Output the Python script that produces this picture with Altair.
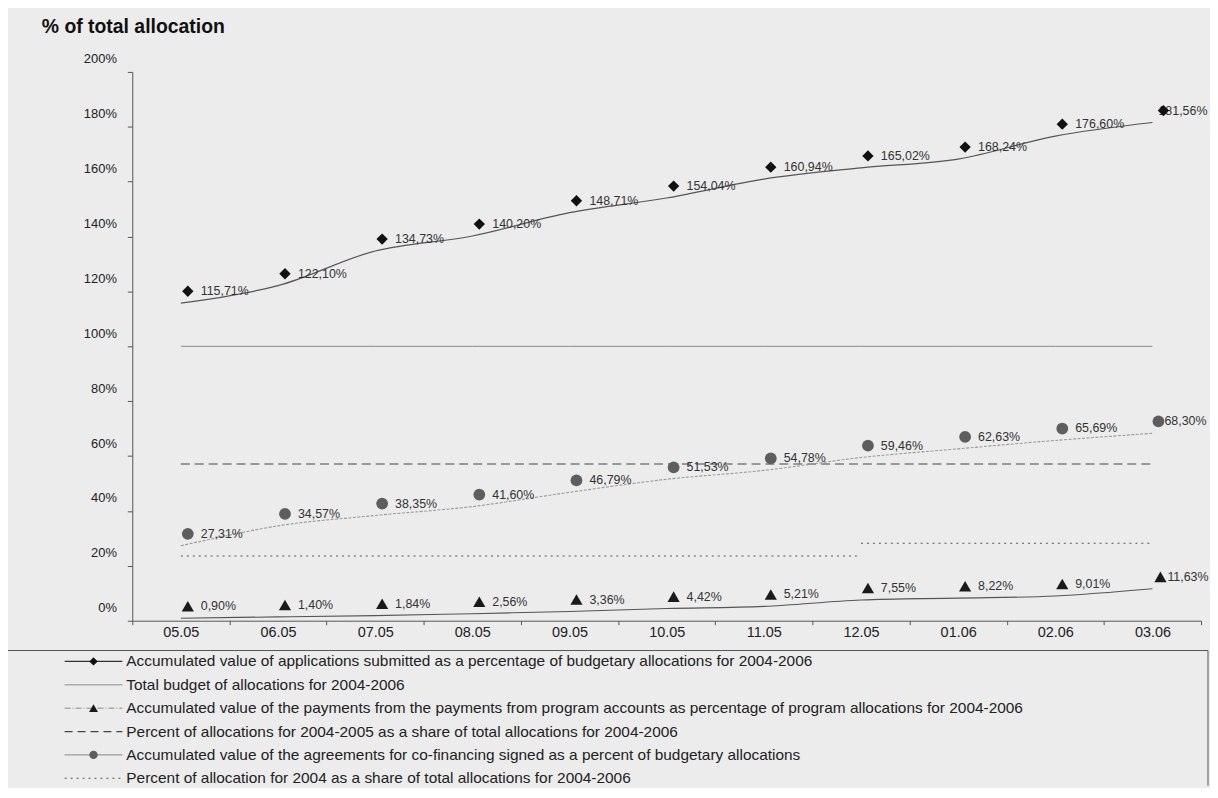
import altair as alt
import pandas as pd

# ---------------- data ----------------
CATEGORIES = ["05.05", "06.05", "07.05", "08.05", "09.05", "10.05",
              "11.05", "12.05", "01.06", "02.06", "03.06"]
APPLICATIONS = [115.71, 122.10, 134.73, 140.20, 148.71, 154.04,
                160.94, 165.02, 168.24, 176.60, 181.56]
AGREEMENTS = [27.31, 34.57, 38.35, 41.60, 46.79, 51.53,
              54.78, 59.46, 62.63, 65.69, 68.30]
PAYMENTS = [0.90, 1.40, 1.84, 2.56, 3.36, 4.42,
            5.21, 7.55, 8.22, 9.01, 11.63]
TOTAL_BUDGET = 100.0
SHARE_2004_2005 = 57.1
SHARE_2004_SEGMENTS = [("05.05", "12.05", 23.6), ("12.05", "03.06", 28.2)]

LEGEND_LABELS = [
    "Accumulated value of applications submitted as a percentage of budgetary allocations for 2004-2006",
    "Total budget of allocations for 2004-2006",
    "Accumulated value of the payments from the payments from program accounts as percentage of program allocations for 2004-2006",
    "Percent of allocations  for 2004-2005 as a share of total allocations for 2004-2006",
    "Accumulated value of the agreements for co-financing signed as a percent of budgetary allocations",
    "Percent of allocation for 2004 as a share of total allocations for 2004-2006",
]
TITLE = "% of total allocation"
Y_TICKS = [0, 20, 40, 60, 80, 100, 120, 140, 160, 180, 200]

FONT = "Liberation Sans"
LAST = CATEGORIES[-1]


def fmt(v):
    return f"{v:.2f}".replace(".", ",") + "%"


def series_df(values):
    return pd.DataFrame({"cat": CATEGORIES, "value": values,
                         "label": [fmt(v) for v in values]})


df_app = series_df(APPLICATIONS)
df_agr = series_df(AGREEMENTS)
df_pay = series_df(PAYMENTS)
df_total = pd.DataFrame({"cat": CATEGORIES, "value": [TOTAL_BUDGET] * len(CATEGORIES)})
df_share45 = pd.DataFrame({"cat": CATEGORIES, "value": [SHARE_2004_2005] * len(CATEGORIES)})
rows = []
for i, (a, b, v) in enumerate(SHARE_2004_SEGMENTS):
    ia, ib = CATEGORIES.index(a), CATEGORIES.index(b)
    for c in CATEGORIES[ia:ib + 1]:
        rows.append({"cat": c, "value": v, "seg": i})
df_share4 = pd.DataFrame(rows)

# ---------------- encodings ----------------
AX_COLOR = "#555555"
X = alt.X("cat:N", sort=CATEGORIES,
          scale=alt.Scale(type="band", paddingInner=0, paddingOuter=0),
          axis=alt.Axis(title=None, labelAngle=0, tickBand="extent", tickSize=4,
                        labelPadding=1, labelFont=FONT, labelFontSize=14.5,
                        labelColor="#222222", domainColor=AX_COLOR, tickColor=AX_COLOR,
                        grid=False))
Y = alt.Y("value:Q", scale=alt.Scale(domain=[0, 200], nice=False),
          axis=alt.Axis(title=None, values=Y_TICKS, labelExpr="datum.value + '%'",
                        tickSize=5, labelPadding=11, labelOffset=-13, labelFont=FONT,
                        labelFontSize=13, labelColor="#222222", domainColor=AX_COLOR,
                        tickColor=AX_COLOR, grid=False))

MY = -12  # marker displacement seen in the original


def series_layers(df, line_kw, shape, size, mcolor, mx_last, dx_last):
    mx = 7
    line = alt.Chart(df).mark_line(interpolate="catmull-rom", **line_kw).encode(x=X, y=Y)
    txt = alt.Chart(df).transform_filter(alt.datum.cat != LAST).mark_text(
        align="left", baseline="middle", dx=mx + 13, dy=MY, font=FONT,
        fontSize=12.5, color="#333333").encode(x=X, y=Y, text="label:N")
    txt_last = alt.Chart(df).transform_filter(alt.datum.cat == LAST).mark_text(
        align="left", baseline="middle", dx=dx_last, dy=MY, font=FONT,
        fontSize=12.5, color="#333333").encode(x=X, y=Y, text="label:N")
    pts = alt.Chart(df).transform_filter(alt.datum.cat != LAST).mark_point(
        shape=shape, filled=True, size=size, color=mcolor,
        opacity=1, xOffset=mx, yOffset=MY).encode(x=X, y=Y)
    pts_last = alt.Chart(df).transform_filter(alt.datum.cat == LAST).mark_point(
        shape=shape, filled=True, size=size, color=mcolor,
        opacity=1, xOffset=mx_last, yOffset=MY).encode(x=X, y=Y)
    return [line, txt, txt_last, pts, pts_last]


layers = []
# reference lines
layers.append(alt.Chart(df_total).mark_line(color="#8a8a8a", strokeWidth=1).encode(x=X, y=Y))
layers.append(alt.Chart(df_share45).mark_line(color="#444444", strokeWidth=1.2,
                                               strokeDash=[9, 5]).encode(x=X, y=Y))
layers.append(alt.Chart(df_share4).mark_line(color="#555555", strokeWidth=1.1,
                                              strokeDash=[2, 4]).encode(
    x=X, y=Y, detail="seg:N"))
# data series
layers += series_layers(df_app, dict(color="#555555", strokeWidth=1.2), "diamond", 130,
                        "#111111", 11, 6)
layers += series_layers(df_agr, dict(color="#9a9a9a", strokeWidth=1.1, strokeDash=[3, 1.5]),
                        "circle", 140, "#5e5e5e", 6, 12)
layers += series_layers(df_pay, dict(color="#555555", strokeWidth=1.1), "triangle-up", 150,
                        "#1a1a1a", 8, 15)

# title
layers.append(alt.Chart(pd.DataFrame({"t": [TITLE]})).mark_text(
    align="left", baseline="alphabetic", font=FONT, fontSize=19.5, fontWeight="bold",
    color="#111111").encode(x=alt.value(-91), y=alt.value(-39), text="t:N"))

# legend box (bottom cut off like the original)
BOX_L, BOX_R, BOX_T, BOX_B = -126, 1082, 582, 718
one = pd.DataFrame({"k": [0]})
layers.append(alt.Chart(one).mark_rule(color=AX_COLOR, strokeWidth=1).encode(
    x=alt.value(BOX_L), x2=alt.value(BOX_R), y=alt.value(BOX_T)))
layers.append(alt.Chart(one).mark_rule(color=AX_COLOR, strokeWidth=1).encode(
    x=alt.value(BOX_L), y=alt.value(BOX_T), y2=alt.value(BOX_B)))
layers.append(alt.Chart(one).mark_rule(color=AX_COLOR, strokeWidth=1).encode(
    x=alt.value(BOX_R), y=alt.value(BOX_T), y2=alt.value(BOX_B)))

LEG_Y0, LEG_STEP = 593, 23.5
SYM_X1, SYM_X2, SYM_MID, TXT_X = -68, -10, -39, -6
legend_styles = [
    (dict(color="#333333", strokeWidth=1.2), ("diamond", 70, "#111111")),
    (dict(color="#8a8a8a", strokeWidth=1), None),
    (dict(color="#8a8a8a", strokeWidth=1, strokeDash=[6, 2, 1, 2]), ("triangle-up", 80, "#1a1a1a")),
    (dict(color="#444444", strokeWidth=1.2, strokeDash=[8, 5]), None),
    (dict(color="#9a9a9a", strokeWidth=1.1), ("circle", 70, "#5e5e5e")),
    (dict(color="#555555", strokeWidth=1.1, strokeDash=[2, 4]), None),
]
for i, (label, (lkw, mk)) in enumerate(zip(LEGEND_LABELS, legend_styles)):
    yy = LEG_Y0 + i * LEG_STEP
    d = pd.DataFrame({"label": [label]})
    layers.append(alt.Chart(d).mark_rule(**lkw).encode(
        x=alt.value(SYM_X1), x2=alt.value(SYM_X2), y=alt.value(yy)))
    if mk is not None:
        shape, size, col = mk
        layers.append(alt.Chart(d).mark_point(shape=shape, size=size, filled=True,
                                              color=col, opacity=1).encode(
            x=alt.value(SYM_MID), y=alt.value(yy)))
    layers.append(alt.Chart(d).mark_text(align="left", baseline="middle", font=FONT,
                                         fontSize=15.5, color="#222222").encode(
        x=alt.value(TXT_X), y=alt.value(yy), text="label:N"))

chart = alt.layer(*layers).properties(
    width=1075, height=552,
    padding={"left": 125, "top": 62, "right": 9, "bottom": 166},
    autosize=alt.AutoSizeParams(type="none"),
    background="#ececec",
).configure_view(stroke=None)

chart.save("out.html", embed_options={"renderer": "svg", "actions": False})
